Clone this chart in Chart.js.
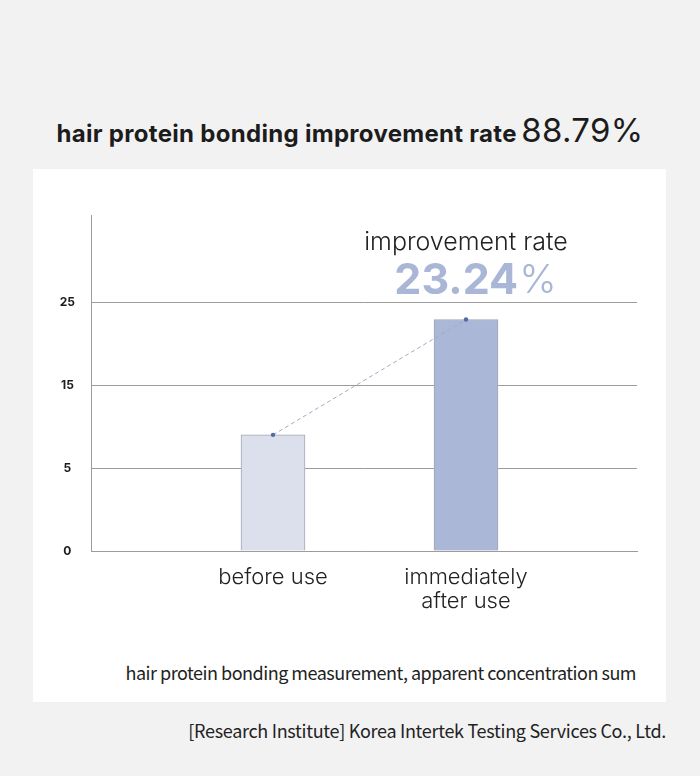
<!DOCTYPE html>
<html>
<head>
<meta charset="utf-8">
<script src="https://cdn.jsdelivr.net/npm/chart.js@4/dist/chart.umd.min.js"></script>
<style>
  html, body { margin: 0; padding: 0; }
  body { width: 700px; height: 776px; background: #f2f2f2; position: relative; overflow: hidden; font-family: Inter, "Noto Sans", sans-serif; }
  .title { position: absolute; left: 0; width: 700px; top: 110px; text-align: center; color: #1c1c1c; white-space: nowrap; }
  .title b { font-size: 24px; font-weight: 700; letter-spacing: 0.3px; }
  .title span { font-size: 33px; font-weight: 400; letter-spacing: 0.3px; }
  .panel { position: absolute; left: 33px; top: 169px; width: 633px; height: 533px; background: #fff; }
  .panel canvas { position: absolute; left: 0; top: 0; }
  .caption { position: absolute; right: 30px; top: 490px; font-family: "Noto Sans CJK KR", sans-serif; font-size: 18px; color: #222; letter-spacing: -0.5px; white-space: nowrap; }
  .source { position: absolute; right: 34px; top: 717px; font-family: "Noto Sans CJK KR", sans-serif; font-size: 18px; color: #222; letter-spacing: -0.3px; white-space: nowrap; }
</style>
</head>
<body>
<div class="title"><b>hair protein bonding improvement rate</b> <span>88.79%</span></div>
<div class="panel">
  <canvas id="bondChart" width="633" height="462"></canvas>
  <div class="caption">hair protein bonding measurement, apparent concentration sum</div>
</div>
<div class="source">[Research Institute] Korea Intertek Testing Services Co., Ltd.</div>

<script>
// chart data
const categories = ['before use', ['immediately', 'after use']];
const bondValues = [9.0, 22.9];
const yTickLabels = [0, 5, 15, 25];
const improvementLabel = 'improvement rate';
const improvementRate = '23.24';

// the y axis is drawn with evenly spaced ticks (0, 5, 15, 25),
// so map a value onto its tick step position
function toStep(v) {
  for (let i = 1; i < yTickLabels.length; i++) {
    if (v <= yTickLabels[i]) {
      const a = yTickLabels[i - 1], b = yTickLabels[i];
      return (i - 1) + (v - a) / (b - a);
    }
  }
  return yTickLabels.length - 1;
}

const points = bondValues.map((v, i) => ({ x: i + 1, y: toStep(v) }));
const lineColor = '#9c9c9c';

// draw the "improvement rate" note above the second bar
const notePlugin = {
  id: 'note',
  afterDatasetsDraw(chart) {
    const ctx = chart.ctx;
    const x = chart.scales.x.getPixelForValue(2);
    const top = chart.chartArea.top;
    ctx.save();
    ctx.textBaseline = 'middle';
    ctx.textAlign = 'center';
    ctx.fillStyle = '#222';
    ctx.font = '300 25px Inter, sans-serif';
    ctx.fillText(improvementLabel, x, top + 27);

    ctx.fillStyle = '#aab6d6';
    ctx.font = '700 43px Inter, sans-serif';
    const numW = ctx.measureText(improvementRate).width;
    ctx.font = '300 40px Inter, sans-serif';
    const pctW = ctx.measureText('%').width;
    const start = x + 9 - (numW + pctW) / 2;
    ctx.textAlign = 'left';
    ctx.font = '700 43px Inter, sans-serif';
    ctx.fillText(improvementRate, start, top + 66);
    ctx.font = '300 40px Inter, sans-serif';
    ctx.fillText('%', start + numW + 1, top + 66);
    ctx.restore();
  }
};

const ctx = document.getElementById('bondChart');
new Chart(ctx, {
  type: 'bar',
  data: {
    datasets: [
      {
        type: 'line',
        data: points,
        borderColor: '#a4aac2',
        borderWidth: 1,
        borderDash: [4, 3],
        pointRadius: 2.2,
        pointBackgroundColor: '#5468a8',
        pointBorderWidth: 0,
        order: 0
      },
      {
        data: points,
        backgroundColor: ['#dcdfec', '#aab7d7'],
        borderColor: '#a3a6b2',
        borderWidth: 1,
        borderSkipped: 'bottom',
        barThickness: 64,
        order: 1
      }
    ]
  },
  options: {
    responsive: false,
    animation: false,
    layout: { padding: { top: 46, right: 29, left: 0, bottom: 0 } },
    plugins: { legend: { display: false }, tooltip: { enabled: false } },
    scales: {
      x: {
        type: 'linear',
        offset: false,
        min: 0.057,
        max: 2.886,
        afterBuildTicks(axis) { axis.ticks = categories.map((c, i) => ({ value: i + 1 })); },
        afterFit(axis) { axis.height = 80; },
        ticks: {
          callback: (v) => categories[v - 1],
          maxRotation: 0,
          autoSkip: false,
          padding: 14,
          color: '#222',
          font: { family: 'Inter, sans-serif', size: 22, weight: 300, lineHeight: 1.1 }
        },
        grid: { display: false, drawTicks: false },
        border: { display: true, color: lineColor, width: 1 }
      },
      y: {
        min: 0,
        max: 4.05,
        afterBuildTicks(axis) { axis.ticks = yTickLabels.map((t, i) => ({ value: i })); },
        afterFit(axis) { axis.width = 58; },
        ticks: {
          callback: (v) => yTickLabels[v],
          crossAlign: 'center',
          padding: 16,
          color: '#1c1c1c',
          font: { family: 'Inter, sans-serif', size: 12, weight: 700 }
        },
        grid: { color: lineColor, lineWidth: 1, drawTicks: false },
        border: { display: true, color: lineColor, width: 1 }
      }
    }
  },
  plugins: [notePlugin]
});
</script>
</body>
</html>
